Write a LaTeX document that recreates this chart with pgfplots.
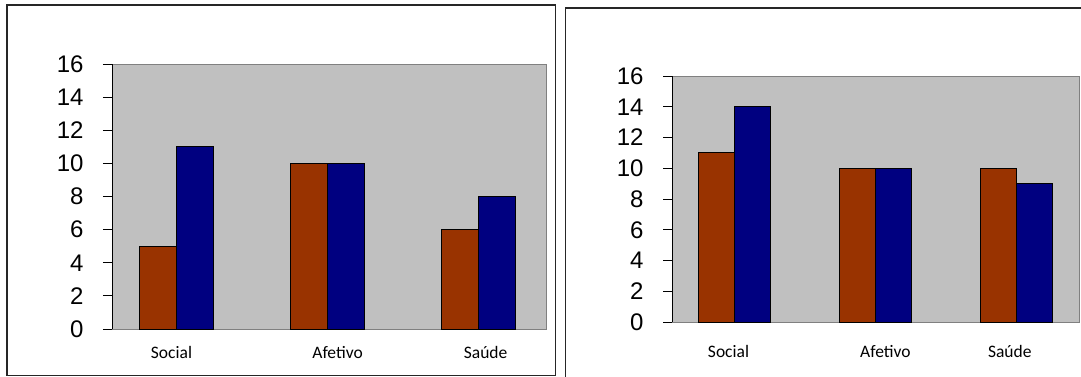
\documentclass[border=0pt]{standalone}
\usepackage{fontspec}
\setmainfont{Liberation Sans}
\newfontfamily\carlito{Carlito}
\usepackage{pgfplots}
\pgfplotsset{compat=1.18}
\definecolor{brn}{HTML}{993300}
\definecolor{nvy}{HTML}{000080}
\definecolor{plotbg}{HTML}{C0C0C0}
\definecolor{border}{HTML}{808080}
\pgfplotsset{
  panel/.style={
    scale only axis, anchor=south west,
    ybar=0pt,
    ymin=0, ymax=16, ytick={0,2,...,16},
    axis background/.style={fill=plotbg},
    axis line style={draw=border, line width=1pt},
    ytick pos=left, tick align=outside,
    major tick length=9pt,
    ytick style={draw=black, line width=1pt},
    xtick style={draw=none},
    /pgf/number format/assume math mode=true,
    yticklabel style={font=\fontsize{24}{24}\selectfont, anchor=east, xshift=-16pt},
    xticklabel style={font=\carlito\fontsize{17.5}{17.5}\selectfont, anchor=base},
    xticklabels={Social,Afetivo,Saúde},
    every axis plot/.append style={draw=black, line width=0.8pt},
    after end axis/.code={\draw[black, line width=1pt] (rel axis cs:0,0) -- (rel axis cs:0,1);},
  }
}
\begin{document}
\begin{tikzpicture}[x=1pt,y=1pt]
\useasboundingbox (0,0) rectangle (1081,376);
\fill[white] (0,0) rectangle (1081,376);
% panel frames
\draw[black!85, line width=1.5pt] (7,0.5) rectangle (555.5,371);
\draw[black!85, line width=1.5pt] (565.5,-5) -- (565.5,368) -- (1090,368);

\begin{axis}[panel,
  at={(112pt,47pt)}, width=434pt, height=265pt,
  xmin=-0.424, xmax=2.45,
  bar width=37pt,
  xticklabel style={yshift=-20pt},
  xtick={-0.03,1.07,2.05}]
\addplot[fill=brn] coordinates {(0,5) (1,10) (2,6)};
\addplot[fill=nvy] coordinates {(0,11) (1,10) (2,8)};
\end{axis}

\begin{axis}[panel,
  at={(672pt,54pt)}, width=407pt, height=246pt,
  xmin=-0.44, xmax=2.44,
  bar width=36pt,
  xticklabel style={yshift=-26pt},
  xtick={-0.04,1.07,1.95}]
\addplot[fill=brn] coordinates {(0,11) (1,10) (2,10)};
\addplot[fill=nvy] coordinates {(0,14) (1,10) (2,9)};
\end{axis}
\end{tikzpicture}
\end{document}
